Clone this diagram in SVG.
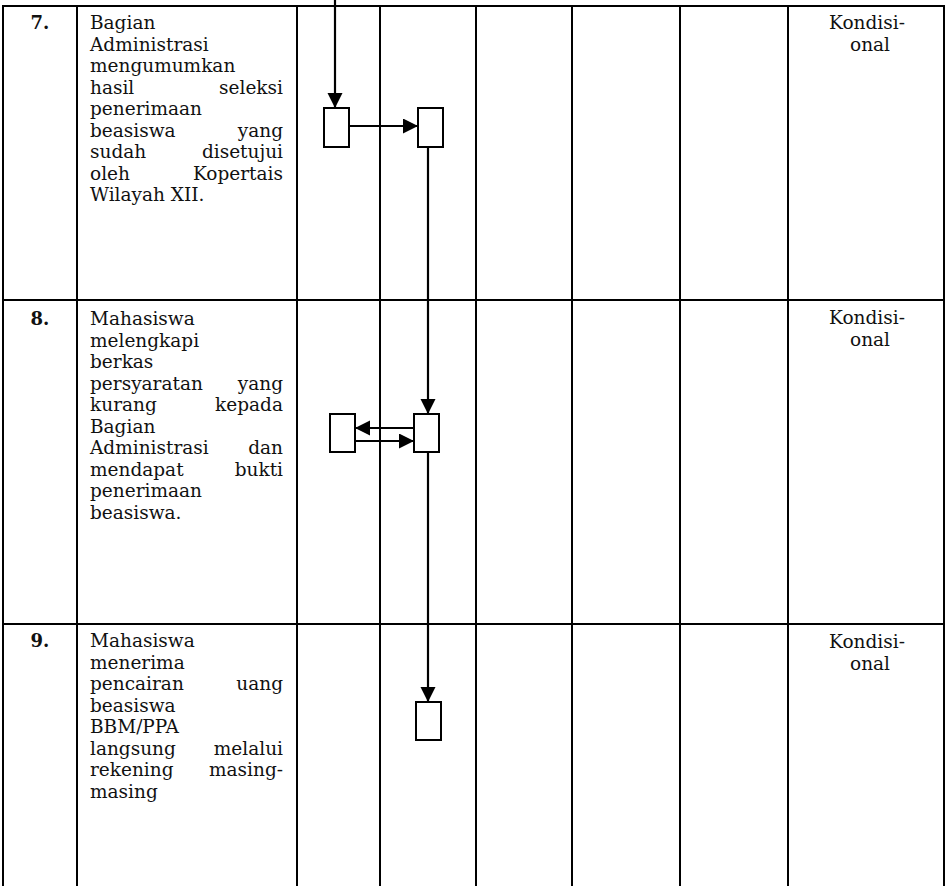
<svg xmlns="http://www.w3.org/2000/svg" width="948" height="886" viewBox="0 0 948 886">
<style>
.grid line{stroke:#000;stroke-width:2}
.t{font-family:"DejaVu Serif","Liberation Serif",serif;font-size:18.5px;fill:#111}
.num{font-family:"DejaVu Serif","Liberation Serif",serif;font-size:18px;font-weight:bold;fill:#111;text-anchor:middle}
.r{text-anchor:end}
.c{text-anchor:middle}
.box{fill:#fff;stroke:#000;stroke-width:2}
.conn line{stroke:#000;stroke-width:2.2}
</style>
<defs>
<marker id="ah" markerUnits="userSpaceOnUse" markerWidth="16" markerHeight="16" refX="15" refY="7.5" orient="auto">
<path d="M0,0 L15,7.5 L0,15 z" fill="#000"/>
</marker>
</defs>
<rect width="948" height="886" fill="#fff"/>
<g class="grid">
<line x1="2" y1="6" x2="945" y2="6"/>
<line x1="2" y1="300" x2="945" y2="300"/>
<line x1="2" y1="624" x2="945" y2="624"/>
<line x1="3" y1="5" x2="3" y2="886"/>
<line x1="77" y1="5" x2="77" y2="886"/>
<line x1="297" y1="5" x2="297" y2="886"/>
<line x1="380" y1="5" x2="380" y2="886"/>
<line x1="476" y1="5" x2="476" y2="886"/>
<line x1="572" y1="5" x2="572" y2="886"/>
<line x1="680" y1="5" x2="680" y2="886"/>
<line x1="788" y1="5" x2="788" y2="886"/>
<line x1="944" y1="5" x2="944" y2="886"/>
</g>
<g id="row7-text">
<text class="num" x="40" y="29">7.</text>
<text class="t" x="90" y="29">Bagian</text>
<text class="t" x="90" y="50.5">Administrasi</text>
<text class="t" x="90" y="72">mengumumkan</text>
<text class="t" x="90" y="93.5">hasil</text><text class="t r" x="283" y="93.5">seleksi</text>
<text class="t" x="90" y="115">penerimaan</text>
<text class="t" x="90" y="136.5">beasiswa</text><text class="t r" x="283" y="136.5">yang</text>
<text class="t" x="90" y="158">sudah</text><text class="t r" x="283" y="158">disetujui</text>
<text class="t" x="90" y="179.5">oleh</text><text class="t r" x="283" y="179.5">Kopertais</text>
<text class="t" x="90" y="201">Wilayah XII.</text>
<text class="t c" x="867" y="29">Kondisi-</text>
<text class="t c" x="870" y="50.5">onal</text>
</g>
<g id="row8-text">
<text class="num" x="40" y="325">8.</text>
<text class="t" x="90" y="325">Mahasiswa</text>
<text class="t" x="90" y="346.5">melengkapi</text>
<text class="t" x="90" y="368">berkas</text>
<text class="t" x="90" y="389.5">persyaratan</text><text class="t r" x="283" y="389.5">yang</text>
<text class="t" x="90" y="411">kurang</text><text class="t r" x="283" y="411">kepada</text>
<text class="t" x="90" y="432.5">Bagian</text>
<text class="t" x="90" y="454">Administrasi</text><text class="t r" x="283" y="454">dan</text>
<text class="t" x="90" y="475.5">mendapat</text><text class="t r" x="283" y="475.5">bukti</text>
<text class="t" x="90" y="497">penerimaan</text>
<text class="t" x="90" y="518.5">beasiswa.</text>
<text class="t c" x="867" y="324">Kondisi-</text>
<text class="t c" x="870" y="345.5">onal</text>
</g>
<g id="row9-text">
<text class="num" x="40" y="647">9.</text>
<text class="t" x="90" y="647">Mahasiswa</text>
<text class="t" x="90" y="668.5">menerima</text>
<text class="t" x="90" y="690">pencairan</text><text class="t r" x="283" y="690">uang</text>
<text class="t" x="90" y="711.5">beasiswa</text>
<text class="t" x="90" y="733">BBM/PPA</text>
<text class="t" x="90" y="754.5">langsung</text><text class="t r" x="283" y="754.5">melalui</text>
<text class="t" x="90" y="776">rekening</text><text class="t r" x="283" y="776">masing-</text>
<text class="t" x="90" y="797.5">masing</text>
<text class="t c" x="867" y="648">Kondisi-</text>
<text class="t c" x="870" y="669.5">onal</text>
</g>
<g id="connectors" class="conn">
<line x1="335" y1="0" x2="335" y2="108" marker-end="url(#ah)"/>
<line x1="349" y1="126" x2="418" y2="126" marker-end="url(#ah)"/>
<line x1="428" y1="147" x2="428" y2="414" marker-end="url(#ah)"/>
<line x1="414" y1="428" x2="355" y2="428" marker-end="url(#ah)"/>
<line x1="355" y1="441" x2="414" y2="441" marker-end="url(#ah)"/>
<line x1="428" y1="452" x2="428" y2="702" marker-end="url(#ah)"/>
</g>
<g id="box-a"><rect class="box" x="324" y="108" width="25" height="39"/></g>
<g id="box-b"><rect class="box" x="418" y="108" width="25" height="39"/></g>
<g id="box-c"><rect class="box" x="414" y="414" width="25" height="38"/></g>
<g id="box-d"><rect class="box" x="330" y="414" width="25" height="38"/></g>
<g id="box-e"><rect class="box" x="416" y="702" width="25" height="38"/></g>
</svg>
